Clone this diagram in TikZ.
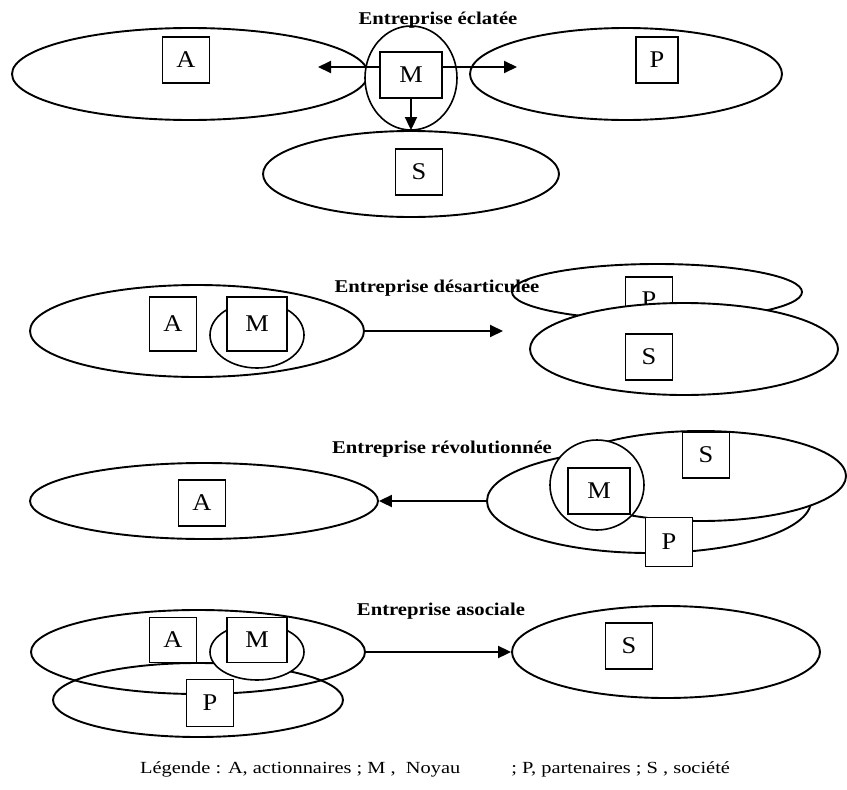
\documentclass[tikz,border=0pt]{standalone}
\usepackage{fontspec}
\usepackage{graphicx}
\setmainfont{Liberation Serif}
\newfontfamily\ttlfont[FakeStretch=1.15]{Liberation Serif}
\newfontfamily\legfont[FakeStretch=1.2]{Liberation Serif}
\newfontfamily\boxfont[FakeStretch=1.1]{Liberation Serif}
\usetikzlibrary{shapes.geometric,arrows.meta}
\begin{document}
\begin{tikzpicture}[x=1pt,y=-1pt,
  ell/.style={ellipse,draw,line width=1.9pt,fill=white,inner sep=0pt},
  ring/.style={ellipse,draw,line width=1.6pt,fill=white,inner sep=0pt},
  lbox/.style={rectangle,draw,line width=1.5pt,fill=white,inner sep=0pt,minimum width=47pt,minimum height=46pt,font=\boxfont\fontsize{24}{26}\selectfont},
  mbox/.style={lbox,minimum width=62pt},
  ttl/.style={font=\ttlfont\bfseries\fontsize{18}{20}\selectfont},
  legend/.style={font=\legfont\fontsize{17}{19}\selectfont,anchor=west,inner sep=0pt},
  arr/.style={line width=2pt,-{Triangle[length=13pt,width=12pt]}},
]
\useasboundingbox[fill=white] (0,0) rectangle (847,790);

% ---------- Section 1 : Entreprise eclatee ----------
\node[ell,minimum width=356pt,minimum height=92pt] (e1a) at (190,74) {};
\node[ell,minimum width=312pt,minimum height=92pt] (e1p) at (626,74) {};
\node[ell,minimum width=296pt,minimum height=86pt] (e1s) at (411,174) {};
\node[ring,minimum width=92pt,minimum height=104pt] (c1m) at (411,78) {};
\coordinate (k1a) at (318,67);
\coordinate (k1p) at (517,67);
\node[mbox] (b1m) at (411,75) {M};
\draw[arr] (b1m.west |- k1a) -- (k1a);
\draw[arr] (b1m.east |- k1p) -- (k1p);
\draw[arr] (b1m.south) -- (b1m.south |- e1s.north);
\node[lbox] (b1a) at (186,60) {A};
\node[lbox,minimum width=42pt] (b1p) at (657,60) {P};
\node[lbox] (b1s) at (419,172) {S};

% ---------- Section 2 : Entreprise desarticulee ----------
\node[ell,minimum width=334pt,minimum height=92pt] (e2a) at (197,331) {};
\node[ring,minimum width=94pt,minimum height=66pt] (c2m) at (257,335) {};
\node[lbox,minimum height=54pt] (b2a) at (173,324) {A};
\node[mbox,minimum width=60pt,minimum height=54pt] (b2m) at (257,324) {M};
\node[ell,minimum width=290pt,minimum height=56pt] (e2p) at (657,292) {};
\node[lbox] (b2p) at (649,300) {P};
\node[ell,minimum width=308pt,minimum height=92pt] (e2s) at (684,349) {};
\node[lbox] (b2s) at (649,357) {S};
\coordinate (k2) at (503,331);
\draw[arr] (e2a.east) -- (k2);

% ---------- Section 3 : Entreprise revolutionnee ----------
\node[ell,minimum width=348pt,minimum height=76pt] (e3a) at (204,501) {};
\node[lbox] (b3a) at (202,503) {A};
\node[ell,minimum width=324pt,minimum height=104pt] (e3p) at (649,501) {};
\node[ell,minimum width=290pt,minimum height=90pt] (e3s) at (701,476) {};
\node[ring,minimum width=94pt,minimum height=90pt] (c3m) at (597,485) {};
\node[mbox] (b3m) at (599,491) {M};
\node[lbox] (b3s) at (706,455) {S};
\node[lbox,minimum height=49pt] (b3p) at (669,542) {P};
\draw[arr] (e3p.west) -- (e3a.east);

% ---------- Section 4 : Entreprise asociale ----------
\node[ell,fill=none,minimum width=334pt,minimum height=84pt] (e4a) at (198,652) {};
\node[ell,fill=none,minimum width=290pt,minimum height=74pt] (e4p) at (198,700) {};
\node[ring,minimum width=94pt,minimum height=56pt] (c4m) at (257,652) {};
\node[lbox,minimum height=45pt] (b4a) at (173,640) {A};
\node[mbox,minimum width=60pt,minimum height=45pt] (b4m) at (257,640) {M};
\node[lbox,minimum height=47pt] (b4p) at (210,703) {P};
\node[ell,minimum width=308pt,minimum height=92pt] (e4s) at (666,652) {};
\node[lbox] (b4s) at (629,646) {S};
\draw[arr] (e4a.east) -- (e4s.west);

% ---------- Titles and legend ----------
\node[ttl] (t1) at (438,20) {Entreprise éclatée};
\node[ttl] (t2) at (437,288) {Entreprise désarticulée};
\node[ttl] (t3) at (442,449) {Entreprise révolutionnée};
\node[ttl] (t4) at (441,611) {Entreprise asociale};
\node[legend] (leg) at (140,769) {Légende : A, actionnaires ; M ,\hspace{0.6em}Noyau\hspace{3em}; P, partenaires ; S , société};
\end{tikzpicture}
\end{document}
